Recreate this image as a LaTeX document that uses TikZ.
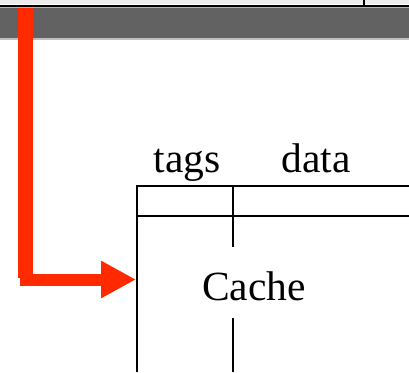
\documentclass[tikz,border=0pt]{standalone}
\usepackage{fontspec}
\setmainfont{Liberation Serif}
\usetikzlibrary{arrows.meta}
\definecolor{bandgray}{HTML}{626262}
\definecolor{arrowred}{HTML}{FF2A00}
\tikzset{
  lbl/.style={inner sep=0pt, anchor=base, font=\fontsize{41.5pt}{42pt}\selectfont},
  cacheline/.style={line width=2pt, black},
  vbar/.style={line width=15pt, arrowred},
  hbar/.style={line width=12pt, arrowred, -{Triangle[length=35pt,width=35pt]}}
}
\begin{document}
\begin{tikzpicture}[x=1pt,y=-1pt]
\useasboundingbox (0,0) rectangle (409,372);
% top strip
\fill[gray!15] (0,0) rectangle (409,4);
\fill[bandgray] (0,8) rectangle (409,38);
\fill[gray!60] (0,7) rectangle (409,8);
\fill[gray!50] (0,38) rectangle (409,40);
\draw[line width=2pt] (0,6) -- (409,6);
\draw[line width=2pt] (364,0) -- (364,7);
% cache box
\draw[cacheline] (137,372) -- (137,186) -- (409,186);
\draw[cacheline] (137,216) -- (409,216);
\draw[cacheline] (233,186) -- (233,247);
\draw[cacheline] (233,318) -- (233,372);
\node[lbl] (tags) at (187,172) {tags};
\node[lbl] (data) at (316,172) {data};
\node[lbl] (cache) at (254,300) {Cache};
\coordinate (cacheleft) at (136,279.5);
% red arrow
\coordinate (start) at (25,8);
\coordinate (corner) at (25,278);
\coordinate (hstart) at (20,279.5);
\draw[vbar] (start) -- (corner);
\draw[hbar] (hstart) -- (cacheleft);
\end{tikzpicture}
\end{document}
